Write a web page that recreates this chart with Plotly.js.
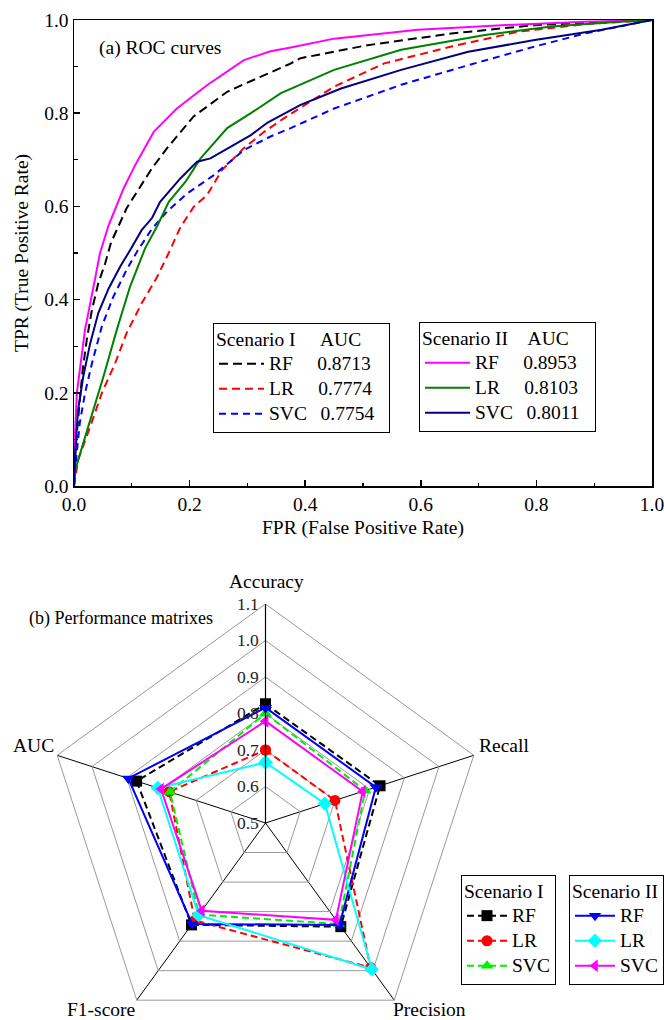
<!DOCTYPE html>
<html>
<head>
<meta charset="utf-8">
<script src="https://cdn.plot.ly/plotly-3.0.1.min.js"></script>
<style>
html, body { margin: 0; padding: 0; overflow: hidden; background: #fff; }
#chart { width: 664px; height: 1050px; }
</style>
</head>
<body>
<div id="chart"></div>
<script>
// ---------- ROC data (a) ----------
const rf1_fpr = [0, 0.003, 0.009, 0.015, 0.022, 0.031, 0.042, 0.054, 0.064, 0.091, 0.135, 0.161, 0.207, 0.265, 0.317, 0.372, 0.392, 0.508, 0.653, 0.797, 0.900, 1];
const rf1_tpr = [0, 0.084, 0.170, 0.249, 0.313, 0.378, 0.435, 0.478, 0.522, 0.596, 0.682, 0.725, 0.793, 0.846, 0.875, 0.905, 0.918, 0.946, 0.971, 0.989, 0.995, 1];
const lr1_fpr = [0, 0.007, 0.028, 0.048, 0.071, 0.091, 0.117, 0.144, 0.165, 0.184, 0.207, 0.230, 0.256, 0.294, 0.329, 0.363, 0.450, 0.537, 0.653, 0.769, 0.884, 1];
const lr1_tpr = [0, 0.056, 0.127, 0.199, 0.263, 0.328, 0.392, 0.449, 0.503, 0.555, 0.599, 0.624, 0.678, 0.725, 0.760, 0.789, 0.857, 0.907, 0.943, 0.975, 0.991, 1];
const svc1_fpr = [0, 0.003, 0.010, 0.019, 0.031, 0.048, 0.068, 0.091, 0.110, 0.135, 0.161, 0.196, 0.242, 0.294, 0.340, 0.375, 0.450, 0.566, 0.682, 0.797, 0.884, 1];
const svc1_tpr = [0, 0.050, 0.135, 0.199, 0.263, 0.342, 0.406, 0.464, 0.505, 0.552, 0.589, 0.628, 0.667, 0.721, 0.750, 0.768, 0.810, 0.861, 0.903, 0.943, 0.971, 1];
const rf2_fpr = [0, 0.002, 0.005, 0.010, 0.019, 0.036, 0.045, 0.060, 0.086, 0.106, 0.138, 0.178, 0.230, 0.294, 0.340, 0.375, 0.450, 0.595, 0.740, 0.884, 1];
const rf2_tpr = [0, 0.120, 0.200, 0.249, 0.335, 0.442, 0.500, 0.560, 0.639, 0.689, 0.760, 0.810, 0.860, 0.914, 0.933, 0.941, 0.960, 0.979, 0.989, 0.996, 1];
const lr2_fpr = [0, 0.002, 0.016, 0.034, 0.051, 0.074, 0.097, 0.123, 0.144, 0.164, 0.193, 0.219, 0.265, 0.306, 0.358, 0.450, 0.566, 0.711, 0.826, 0.950, 1];
const lr2_tpr = [0, 0.034, 0.092, 0.163, 0.235, 0.335, 0.428, 0.510, 0.558, 0.610, 0.653, 0.703, 0.768, 0.800, 0.843, 0.893, 0.936, 0.968, 0.986, 0.997, 1];
const svc2_fpr = [0, 0.002, 0.007, 0.016, 0.028, 0.042, 0.060, 0.080, 0.097, 0.117, 0.135, 0.149, 0.184, 0.213, 0.236, 0.271, 0.306, 0.335, 0.392, 0.462, 0.566, 0.682, 0.797, 0.913, 1];
const svc2_tpr = [0, 0.070, 0.163, 0.235, 0.306, 0.371, 0.424, 0.471, 0.506, 0.549, 0.575, 0.610, 0.660, 0.696, 0.703, 0.728, 0.753, 0.780, 0.818, 0.853, 0.893, 0.932, 0.957, 0.979, 1];

const models = ['RF', 'LR', 'SVC'];
const auc_s1 = ['0.8713', '0.7774', '0.7754'];
const auc_s2 = ['0.8953', '0.8103', '0.8011'];
const rocTicks = [0, 0.2, 0.4, 0.6, 0.8, 1.0];
const rocTickText = ['0.0', '0.2', '0.4', '0.6', '0.8', '1.0'];

// ---------- Radar data (b) ----------
const metrics = ['Accuracy', 'Recall', 'Precision', 'F1-score', 'AUC'];
const radar_rf1  = [0.826, 0.830, 0.851, 0.845, 0.8713];
const radar_lr1  = [0.700, 0.700, 0.990, 0.830, 0.7774];
const radar_svc1 = [0.800, 0.787, 0.842, 0.810, 0.7754];
const radar_rf2  = [0.816, 0.818, 0.845, 0.842, 0.8953];
const radar_lr2  = [0.666, 0.671, 0.996, 0.812, 0.8103];
const radar_svc2 = [0.779, 0.780, 0.828, 0.797, 0.8011];

const FONT = '"Liberation Serif", "Times New Roman", Times, serif';
const FS = 19.5;
const LEG_FS = 17;   // controls legend row spacing
const W = 664, H = 1050;
const NB = '\u00a0';
const sp = n => NB.repeat(n);
const big = t => '<span style="font-size:' + FS + 'px">' + t + '</span>';
const padName = (name) => name === 'SVC' ? name + sp(2) + '\u2009' : name + sp(5);

function closeLoop(arr) { return arr.concat([arr[0]]); }
const thetaClosed = closeLoop(metrics);

const rocStyles1 = [
  {x: rf1_fpr, y: rf1_tpr, color: '#000000', dash: '9px,5px'},
  {x: lr1_fpr, y: lr1_tpr, color: '#ff0000', dash: '8px,5px'},
  {x: svc1_fpr, y: svc1_tpr, color: '#0000ff', dash: '7px,5px'}
];
const rocStyles2 = [
  {x: rf2_fpr, y: rf2_tpr, color: '#ff00ff'},
  {x: lr2_fpr, y: lr2_tpr, color: '#008000'},
  {x: svc2_fpr, y: svc2_tpr, color: '#000080'}
];

const traces = [];
rocStyles1.forEach((s, i) => {
  traces.push({
    type: 'scatter', mode: 'lines', x: s.x, y: s.y, xaxis: 'x', yaxis: 'y',
    name: big(padName(models[i]) + auc_s1[i] + sp(2)), legend: 'legend',
    line: {color: s.color, width: 2, dash: s.dash}
  });
});
rocStyles2.forEach((s, i) => {
  traces.push({
    type: 'scatter', mode: 'lines', x: s.x, y: s.y, xaxis: 'x', yaxis: 'y',
    name: big(padName(models[i]) + auc_s2[i] + sp(2)), legend: 'legend2',
    line: {color: s.color, width: 2}
  });
});

const radar1 = [
  {r: radar_rf1, color: '#000000', symbol: 'square'},
  {r: radar_lr1, color: '#ff0000', symbol: 'circle'},
  {r: radar_svc1, color: '#00ee00', symbol: 'triangle-up'}
];
const radar2 = [
  {r: radar_rf2, color: '#0000ff', symbol: 'triangle-down'},
  {r: radar_lr2, color: '#00ffff', symbol: 'diamond'},
  {r: radar_svc2, color: '#ff00ff', symbol: 'triangle-left'}
];
radar1.forEach((s, i) => {
  traces.push({
    type: 'scatterpolar', mode: 'lines+markers', subplot: 'polar',
    r: closeLoop(s.r), theta: thetaClosed, name: big(models[i]), legend: 'legend3',
    line: {color: s.color, width: 2, dash: '7px,4px'},
    marker: {color: s.color, symbol: s.symbol, size: 11}
  });
});
radar2.forEach((s, i) => {
  traces.push({
    type: 'scatterpolar', mode: 'lines+markers', subplot: 'polar',
    r: closeLoop(s.r), theta: thetaClosed, name: big(models[i]), legend: 'legend4',
    line: {color: s.color, width: 2},
    marker: {color: s.color, symbol: s.symbol, size: 11}
  });
});

const py = px => 1 - px / H;
const pxX = px => px / W;

const legFont = {family: FONT, size: LEG_FS, color: '#000'};
const legendBase = {
  bgcolor: 'rgba(255,255,255,1)', bordercolor: '#000', borderwidth: 1,
  font: legFont,
  xanchor: 'left', yanchor: 'top', tracegroupgap: 0, itemclick: false
};

const txtFont = {family: FONT, size: FS, color: '#000'};
const metricLabelPos = [
  {x: 266, y: 581, xa: 'center'},
  {x: 477, y: 745, xa: 'left'},
  {x: 430, y: 1009, xa: 'center'},
  {x: 101, y: 1009, xa: 'center'},
  {x: 56, y: 745, xa: 'right'}
];
const metricAnnotations = metrics.map((m, i) => ({
  text: m, xref: 'paper', yref: 'paper', x: pxX(metricLabelPos[i].x), y: py(metricLabelPos[i].y),
  xanchor: metricLabelPos[i].xa, yanchor: 'middle', showarrow: false, font: txtFont
}));

const layout = {
  width: W, height: H,
  margin: {l: 0, r: 0, t: 0, b: 0},
  paper_bgcolor: '#fff', plot_bgcolor: '#fff',
  font: txtFont,
  showlegend: true,
  xaxis: {
    domain: [pxX(74), pxX(652)], anchor: 'y',
    range: [0, 1], tickmode: 'array', tickvals: rocTicks, ticktext: rocTickText,
    ticklabeloverflow: 'allow',
    ticks: 'inside', ticklen: 6, tickwidth: 1.5, tickcolor: '#000',
    minor: {ticks: 'inside', dtick: 0.1, tick0: 0, ticklen: 3.5, tickwidth: 1.2, tickcolor: '#000'},
    showline: true, linecolor: '#000', linewidth: 1.5, mirror: true,
    showgrid: false, zeroline: false,
    tickfont: txtFont,
    title: {text: 'FPR (False Positive Rate)', font: txtFont, standoff: 6}
  },
  yaxis: {
    domain: [py(486), py(20)], anchor: 'x',
    range: [0, 1], tickmode: 'array', tickvals: rocTicks, ticktext: rocTickText,
    ticklabeloverflow: 'allow',
    ticks: 'inside', ticklen: 6, tickwidth: 1.5, tickcolor: '#000',
    minor: {ticks: 'inside', dtick: 0.1, tick0: 0, ticklen: 3.5, tickwidth: 1.2, tickcolor: '#000'},
    showline: true, linecolor: '#000', linewidth: 1.5, mirror: true,
    showgrid: false, zeroline: false,
    tickfont: txtFont,
    title: {text: 'TPR (True Positive Rate)', font: txtFont, standoff: 10}
  },
  polar: {
    domain: {x: [pxX(265.5 - 219), pxX(265.5 + 219)], y: [py(823 + 219), py(823 - 219)]},
    bgcolor: 'rgba(0,0,0,0)',
    gridshape: 'linear',
    radialaxis: {
      range: [0.5, 1.1], dtick: 0.1, tick0: 0.5, tickformat: '.1f',
      angle: 90, tickangle: 90, side: 'counterclockwise',
      showline: true, linecolor: '#000', linewidth: 1.2,
      showgrid: true, gridcolor: '#999', gridwidth: 1,
      ticks: '', tickfont: {family: FONT, size: 17.5, color: '#222'}
    },
    angularaxis: {
      rotation: 90, direction: 'clockwise',
      showline: true, linecolor: '#999', linewidth: 1,
      showgrid: true, gridcolor: '#000', gridwidth: 1,
      ticks: '', showticklabels: false
    }
  },
  legend: Object.assign({}, legendBase, {
    x: pxX(213), y: py(323), itemwidth: 45,
    title: {text: big('Scenario I' + sp(5) + 'AUC'), font: legFont}
  }),
  legend2: Object.assign({}, legendBase, {
    x: pxX(419), y: py(322), itemwidth: 45,
    title: {text: big('Scenario II' + sp(4) + 'AUC'), font: legFont}
  }),
  legend3: Object.assign({}, legendBase, {
    x: pxX(461), y: py(875), itemwidth: 40,
    title: {text: big('Scenario I'), font: legFont}
  }),
  legend4: Object.assign({}, legendBase, {
    x: pxX(569), y: py(875), itemwidth: 40,
    title: {text: big('Scenario II'), font: legFont}
  }),
  annotations: [
    {text: '(a) ROC curves', xref: 'paper', yref: 'paper', x: pxX(97), y: py(48),
     xanchor: 'left', yanchor: 'middle', showarrow: false, font: txtFont},
    {text: '(b) Performance matrixes', xref: 'paper', yref: 'paper', x: pxX(27), y: py(618),
     xanchor: 'left', yanchor: 'middle', showarrow: false, font: {family: FONT, size: 18, color: '#000'}}
  ].concat(metricAnnotations)
};

Plotly.newPlot('chart', traces, layout, {displayModeBar: false, staticPlot: true});
</script>
</body>
</html>
